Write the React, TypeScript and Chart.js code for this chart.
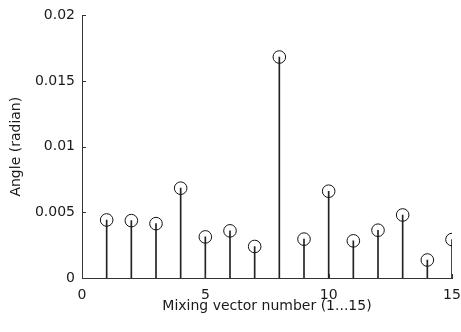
import React, { useEffect, useRef } from 'react';
import { Chart, registerables } from 'chart.js';

Chart.register(...registerables);

const vectorNumbers = [1, 2, 3, 4, 5, 6, 7, 8, 9, 10, 11, 12, 13, 14, 15];
const angles = [
  0.00442, 0.00437, 0.00414, 0.00684, 0.00313, 0.00359, 0.0024, 0.01683,
  0.00296, 0.00661, 0.00283, 0.00364, 0.0048, 0.00137, 0.00293,
];
const xTickLabels = ['0', '5', '10', '15'];
const yTickLabels = ['0', '0.005', '0.01', '0.015', '0.02'];
const xTitle = 'Mixing vector number (1...15)';
const yTitle = 'Angle (radian)';

const FONT = "'DejaVu Sans', 'Liberation Sans', Arial, sans-serif";
const TEXT = '#1a1a1a';
const AXIS = '#333333';

const innerTicks = {
  id: 'innerTicks',
  afterDatasetsDraw(chart: any) {
    const { ctx, chartArea, scales } = chart;
    const x = scales.x;
    const y = scales.y;
    ctx.save();
    ctx.strokeStyle = AXIS;
    ctx.lineWidth = 1;
    ctx.beginPath();
    y.ticks.forEach((t: any) => {
      const py = Math.round(y.getPixelForValue(t.value)) + 0.5;
      ctx.moveTo(chartArea.left, py);
      ctx.lineTo(chartArea.left + 4, py);
    });
    x.ticks.forEach((t: any) => {
      const px = Math.round(x.getPixelForValue(t.value)) + 0.5;
      ctx.moveTo(px, chartArea.bottom);
      ctx.lineTo(px, chartArea.bottom - 4);
    });
    ctx.stroke();
    ctx.restore();
  },
};

export default function App() {
  const ref = useRef<HTMLCanvasElement | null>(null);

  useEffect(() => {
    if (!ref.current) return;
    const points = vectorNumbers.map((n, i) => ({ x: n, y: angles[i] }));
    const chart = new Chart(ref.current, {
      type: 'scatter',
      data: {
        datasets: [
          {
            type: 'bar' as any,
            data: points,
            backgroundColor: '#222222',
            borderWidth: 0,
            barThickness: 1,
            grouped: false,
            order: 2,
          } as any,
          {
            type: 'scatter',
            data: points,
            pointRadius: 6.3,
            pointHoverRadius: 6.3,
            pointBorderWidth: 1,
            pointBorderColor: '#111111',
            pointBackgroundColor: 'rgba(0,0,0,0)',
            order: 1,
          },
        ],
      },
      options: {
        responsive: false,
        animation: false,
        devicePixelRatio: 1,
        layout: { padding: { top: 14, right: 0, bottom: 0, left: 0 } },
        plugins: {
          legend: { display: false },
          tooltip: { enabled: false },
        },
        scales: {
          x: {
            type: 'linear',
            min: 0,
            max: 15,
            offset: false,
            afterFit: (s: any) => {
              s.height = 54;
              s.paddingRight = 9;
            },
            grid: { display: false, drawTicks: false },
            border: { display: true, color: AXIS, width: 1 },
            ticks: {
              stepSize: 5,
              padding: 9,
              color: TEXT,
              font: { family: FONT, size: 14 },
              maxRotation: 0,
              callback: (_v: any, i: number) => xTickLabels[i],
            },
            title: {
              display: true,
              text: xTitle,
              color: TEXT,
              font: { family: FONT, size: 14 },
              padding: { top: 0, bottom: 17 },
            },
          },
          y: {
            type: 'linear',
            min: 0,
            max: 0.02,
            afterFit: (s: any) => {
              s.width = 82;
            },
            grid: { display: false, drawTicks: false },
            border: { display: true, color: AXIS, width: 1 },
            ticks: {
              stepSize: 0.005,
              padding: 7,
              color: TEXT,
              font: { family: FONT, size: 14 },
              callback: (_v: any, i: number) => yTickLabels[i],
            },
            title: {
              display: true,
              text: yTitle,
              color: TEXT,
              font: { family: FONT, size: 14 },
              padding: { top: 7.5, bottom: 0 },
            },
          },
        },
      },
      plugins: [innerTicks],
    });
    return () => chart.destroy();
  }, []);

  return (
    <div style={{ position: 'absolute', left: 0, top: 0, width: 461, height: 332, background: '#ffffff' }}>
      <canvas ref={ref} width={461} height={332} style={{ width: 461, height: 332, display: 'block' }} />
    </div>
  );
}
